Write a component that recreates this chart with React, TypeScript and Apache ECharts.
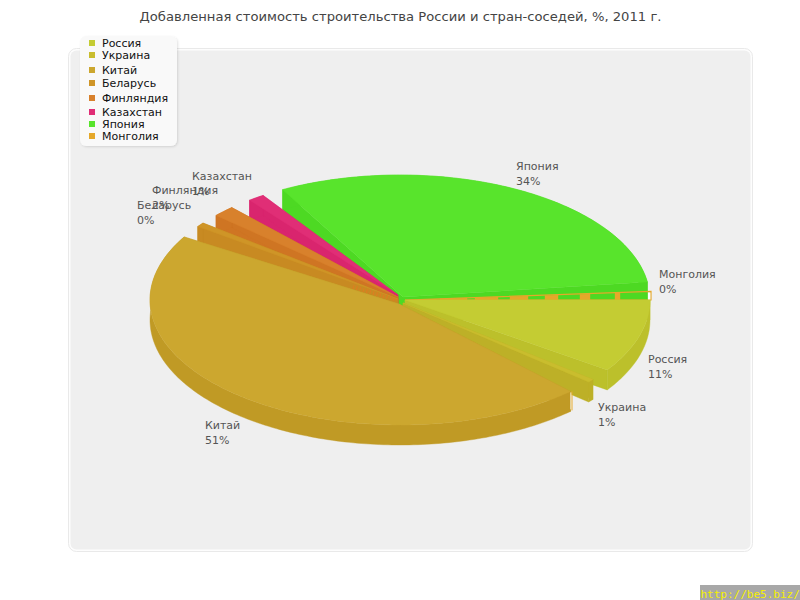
import React, { useEffect, useRef } from "react";
import * as echarts from "echarts";

const chartTitle = "Добавленная стоимость строительства России и стран-соседей, %, 2011 г.";
const watermark = "http://be5.biz/";
const categories = ["Россия", "Украина", "Китай", "Беларусь", "Финляндия", "Казахстан", "Япония", "Монголия"];
const percentLabels = [11, 1, 51, 0, 2, 1, 34, 0];
// Angles of the slices as they were actually drawn in the picture (degrees on the ellipse, clockwise from east)
const drawnStartDeg = [0, 39.5, 47, 216, 222.6, 233, 242, 356.3];
const drawnEndDeg = [34, 41, 210.3, 218, 227.7, 236.8, 351.7, 360];

const topColors = ["#c4cc33", "#c9bd2e", "#cca72f", "#cf9527", "#d8812c", "#e02e76", "#58e42c", "#e5a82a"];
const sideColors = ["#bcc02b", "#bdb027", "#c09a25", "#c88a22", "#cf7523", "#d9256e", "#4dd923", "#e5a82a"];

// layout
const CX = 400, CY = 300, RX = 250, RY = 125, DEPTH = 20;
const apexes: number[][] = [[405, 300], [403, 303], [399, 304], [398, 299], [398, 297], [398, 295], [403, 297], [405, 300]];
const paintOrder = [6, 7, 0, 1, 5, 4, 3, 2];
const labelAnchors: number[][] = [[648, 352], [598, 400], [205, 418], [137, 198], [152, 183], [192, 169], [516, 159], [659, 267]];
const legendRows = [43, 55, 70, 83, 98, 112, 124, 136];
const mongoliaStripes: number[][] = [[440, 467], [475, 498], [510, 528], [545, 558], [580, 590], [615, 620]];

const arc = (s: number, e: number, dy = 0, steps = 0) => {
  const pts: number[][] = [];
  const n = steps || Math.max(2, Math.ceil(Math.abs(e - s)));
  for (let k = 0; k <= n; k++) {
    const a = ((s + ((e - s) * k) / n) * Math.PI) / 180;
    pts.push([CX + RX * Math.cos(a), CY + RY * Math.sin(a) + dy]);
  }
  return pts;
};

const poly = (points: number[][], fill: string) => ({ type: "polygon", shape: { points }, style: { fill, stroke: fill, lineWidth: 0.4 } });

const renderSlice = (_: any, api: any) => {
  const i = api.value(0);
  const s = api.value(1);
  const e = api.value(2);
  const [ax, ay] = apexes[i];
  const children: any[] = [];
  if (categories[i] === "Монголия") {
    const top = arc(s, s, 0, 1)[0];
    const slope = (top[1] - ay) / (top[0] - ax);
    mongoliaStripes.forEach(([x0, x1]) => {
      children.push(poly([[x0, ay + slope * (x0 - ax)], [x1, ay + slope * (x1 - ax)], [x1, ay], [x0, ay]], topColors[i]));
    });
    children.push({
      type: "polygon",
      shape: { points: [[ax, ay], [651, top[1] - 0.5], [651, ay]] },
      style: { fill: "none", stroke: topColors[i], lineWidth: 1.2 },
    });
    children.push({ type: "rect", shape: { x: 648, y: 293, width: 2.2, height: 6.5 }, style: { fill: "#ffffff" } });
    return { type: "group", children };
  }
  const c = topColors[i];
  const d = sideColors[i];
  const outer = arc(s, e);
  const lower = arc(s, e, DEPTH);
  const first = outer[0];
  const last = outer[outer.length - 1];
  // start wall, end wall, rim, top
  children.push(poly([[ax, ay], first, [first[0], first[1] + DEPTH], [ax, ay + DEPTH]], d));
  children.push(poly([[ax, ay], last, [last[0], last[1] + DEPTH], [ax, ay + DEPTH]], d));
  children.push(poly([...outer, ...lower.slice().reverse()], d));
  children.push(poly([[ax, ay], ...outer], c));
  if (categories[i] === "Китай") {
    children.push({ type: "line", shape: { x1: first[0] + 0.5, y1: first[1] + 1, x2: first[0] + 0.5, y2: first[1] + 18 }, style: { stroke: "#ffffff", lineWidth: 1 } });
    children.push({ type: "line", shape: { x1: first[0] + 1.5, y1: first[1], x2: first[0] + 1.5, y2: first[1] + 19 }, style: { stroke: "#e5a82a", lineWidth: 1 } });
  }
  if (categories[i] === "Беларусь") {
    children.push({ type: "line", shape: { x1: 353, y1: 287, x2: 397, y2: 300 }, style: { stroke: "#df7d20", lineWidth: 4, lineDash: [1, 2.5] } });
  }
  return { type: "group", children };
};

export default function App() {
  const ref = useRef<HTMLDivElement>(null);
  useEffect(() => {
    const chart = echarts.init(ref.current!, undefined, { renderer: "svg" });
    const font = "DejaVu Sans";
    const graphics: any[] = [
      { type: "rect", z: 0, shape: { x: 68.5, y: 48.5, width: 684, height: 503, r: 8 }, style: { fill: "#fdfdfd", stroke: "#e9e9e9", lineWidth: 1 } },
      { type: "rect", z: 1, shape: { x: 70.5, y: 50.5, width: 680, height: 499, r: 6 }, style: { fill: "#efefef" } },
      { type: "text", z: 5, x: 400.5, y: 17, scaleX: 1.096, style: { text: chartTitle, fill: "#444444", font: `12px "${font}"`, align: "center", verticalAlign: "middle" } },
      { type: "rect", z: 10, shape: { x: 80, y: 36, width: 97, height: 110, r: 6 }, style: { fill: "#f9f9f9", shadowBlur: 2, shadowOffsetX: 1, shadowOffsetY: 1, shadowColor: "rgba(0,0,0,0.12)" } },
      { type: "rect", z: 5, shape: { x: 700, y: 585, width: 100, height: 15 }, style: { fill: "#a8a8a8" } },
      { type: "text", z: 6, x: 700.5, y: 594, style: { text: watermark, fill: "#f5f000", font: `11px "DejaVu Sans Mono"`, verticalAlign: "middle" } },
    ];
    categories.forEach((name, i) => {
      graphics.push({ type: "rect", z: 11, shape: { x: 89, y: legendRows[i] - 3, width: 6, height: 6 }, style: { fill: topColors[i] } });
      graphics.push({ type: "text", z: 11, x: 102, y: legendRows[i], style: { text: name, fill: "#111111", font: `11px "${font}"`, verticalAlign: "middle" } });
      graphics.push({ type: "text", z: 12, x: labelAnchors[i][0], y: labelAnchors[i][1], style: { text: `${name}\n${percentLabels[i]}%`, fill: "#555555", font: `11px "${font}"`, lineHeight: 15, verticalAlign: "top" } });
    });
    const rows = paintOrder.map((i) => [i, drawnStartDeg[i], drawnEndDeg[i]]);
    chart.setOption({
      animation: false,
      backgroundColor: "#ffffff",
      graphic: graphics,
      series: [{ type: "custom", coordinateSystem: "none", silent: true, z: 3, renderItem: renderSlice, data: rows }],
    });
    return () => chart.dispose();
  }, []);
  return <div ref={ref} style={{ position: "fixed", left: 0, top: 0, width: 800, height: 600 }} />;
}
